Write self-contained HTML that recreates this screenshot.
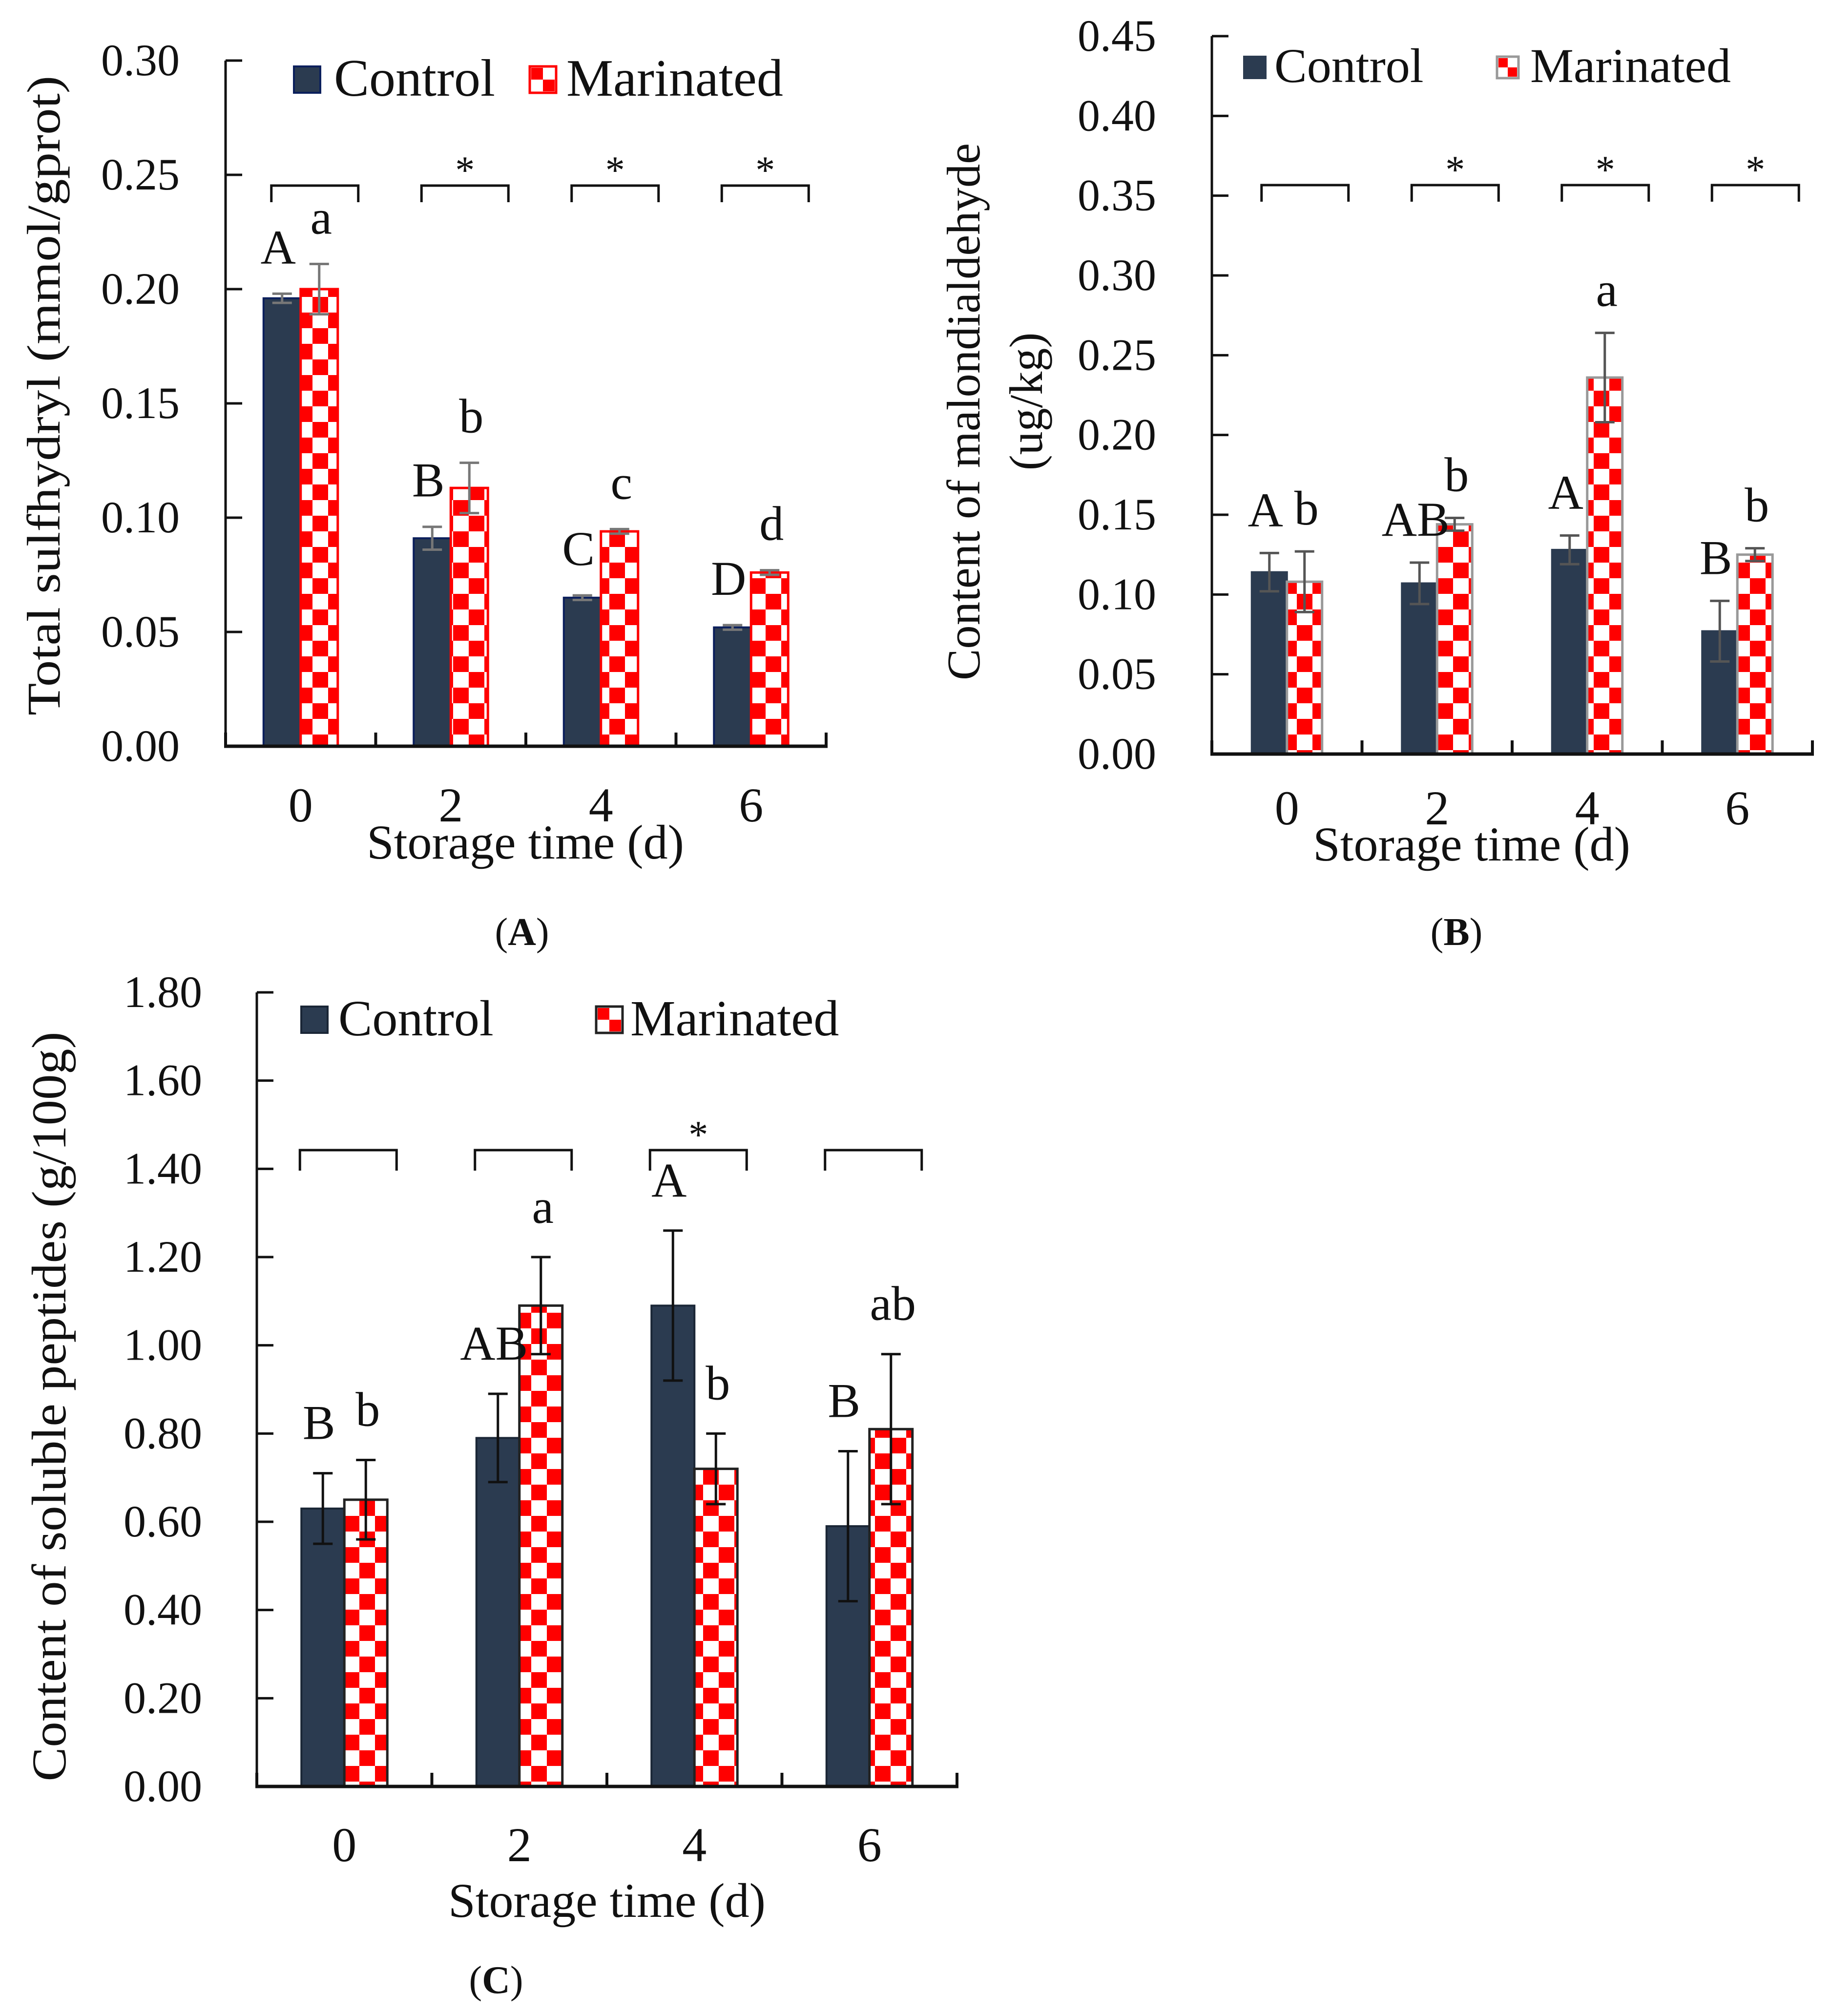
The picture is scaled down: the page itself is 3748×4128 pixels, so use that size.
<!DOCTYPE html>
<html><head><meta charset="utf-8"><style>
html,body{margin:0;padding:0;background:#fff}
svg{display:block}
text{font-family:"Liberation Serif","Noto Serif CJK SC",serif;fill:#111}
</style></head><body>
<svg id="fig" width="3748" height="4128" viewBox="0 0 3748 4128" xmlns="http://www.w3.org/2000/svg">
<defs>
<pattern id="chk" width="64" height="64" patternUnits="userSpaceOnUse">
<rect width="64" height="64" fill="#ff0000"/>
<rect x="0" y="0" width="32" height="32" fill="#fff"/>
<rect x="32" y="32" width="32" height="32" fill="#fff"/>
</pattern>
</defs>
</svg>
<script>
const categories = ["0","2","4","6"];
// Panel A
const aControl = [0.196, 0.091, 0.065, 0.052];
const aControlErr = [0.002, 0.005, 0.001, 0.001];
const aMarinated = [0.200, 0.113, 0.094, 0.076];
const aMarinatedErr = [0.011, 0.011, 0.001, 0.001];
const aControlLetters = ["A","B","C","D"];
const aMarinatedLetters = ["a","b","c","d"];
const aStars = [false, true, true, true];
const aTicks = ["0.00","0.05","0.10","0.15","0.20","0.25","0.30"];
// Panel B
const bControl = [0.114, 0.107, 0.128, 0.077];
const bControlErr = [0.012, 0.013, 0.009, 0.019];
const bMarinated = [0.108, 0.144, 0.236, 0.125];
const bMarinatedErr = [0.019, 0.004, 0.028, 0.004];
const bControlLetters = ["A","AB","A","B"];
const bMarinatedLetters = ["b","b","a","b"];
const bStars = [false, true, true, true];
const bTicks = ["0.00","0.05","0.10","0.15","0.20","0.25","0.30","0.35","0.40","0.45"];
// Panel C
const cControl = [0.63, 0.79, 1.09, 0.59];
const cControlErr = [0.08, 0.10, 0.17, 0.17];
const cMarinated = [0.65, 1.09, 0.72, 0.81];
const cMarinatedErr = [0.09, 0.11, 0.08, 0.17];
const cControlLetters = ["B","AB","A","B"];
const cMarinatedLetters = ["b","a","b","ab"];
const cStars = [false, false, true, false];
const cTicks = ["0.00","0.20","0.40","0.60","0.80","1.00","1.20","1.40","1.60","1.80"];

const NS = "http://www.w3.org/2000/svg";
const svg = document.getElementById("fig");
function mk(tag, attrs, parent){
  const e = document.createElementNS(NS, tag);
  for (const k in attrs) e.setAttribute(k, attrs[k]);
  (parent||svg).appendChild(e);
  return e;
}
function txt(s, attrs, parent){ const t = mk("text", attrs, parent); t.textContent = s; return t; }

function panel(p){
  const g = mk("g", {});
  
  
  const ymax = parseFloat(p.ticks[p.ticks.length-1]);
  const Y = v => p.y0 - (v/ymax)*(p.y0 - p.yTop);
  const cw = (p.x1 - p.x0)/categories.length;
  const X = i => p.x0 + cw*(i+0.5);
  p.ticks.forEach(t => {
    const y = Y(parseFloat(t));
    const tk = mk("line",{x1:p.x0,x2:p.x0+34,y1:y,y2:y,stroke:"#111","stroke-width":5},g);
    
    
    const lb = txt(t,{x:p.tickRight,y:y+30,"font-size":92,"text-anchor":"end"},g);
    
    
  });
  categories.forEach((c,i) => {
    const cx = X(i);
    const w = p.bw;
    const r1 = mk("rect",{x:cx-w,y:Y(p.ctrl[i]),width:w,height:p.y0-Y(p.ctrl[i]),fill:"#2b3b50",stroke:p.ctrlStroke,"stroke-width":4},g);
    
    
    const r2 = mk("rect",{x:cx,y:Y(p.mar[i]),width:w,height:p.y0-Y(p.mar[i]),fill:"url(#chk)",stroke:p.marStroke,"stroke-width":5},g);
    
    
    [[cx-w/2,p.ctrl[i],p.ctrlErr[i]],[cx+w/2,p.mar[i],p.marErr[i]]].forEach(([ex,v,e]) => {
      const eg = mk("g",{stroke:p.errColor,"stroke-width":5},g);
      
      
      mk("line",{x1:ex,x2:ex,y1:Y(v+e),y2:Y(v-e)},eg);
      mk("line",{x1:ex-20,x2:ex+20,y1:Y(v+e),y2:Y(v+e)},eg);
      mk("line",{x1:ex-20,x2:ex+20,y1:Y(v-e),y2:Y(v-e)},eg);
    });
    const l1 = txt(p.cl[i],{x:cx-w/2-8,y:Y(p.ctrl[i]+p.ctrlErr[i])-p.letOff,"font-size":100,"text-anchor":"middle"},g);
    
    
    const l2 = txt(p.ml[i],{x:cx+w/2+4,y:Y(p.mar[i]+p.marErr[i])-p.letOff,"font-size":100,"text-anchor":"middle"},g);
    
    
    const bx = cx + p.brOff - p.brW/2;
    const br = mk("path",{d:`M${bx} ${p.brTop+p.brH} V${p.brTop} H${bx+p.brW} V${p.brTop+p.brH}`,fill:"none",stroke:"#111","stroke-width":5},g);
    
    
    if (p.stars[i]) {
      const s = txt("*",{x:cx+p.brOff,y:p.brTop-5,"font-size":80,"text-anchor":"middle"},g);
      
      
    }
    const xl = txt(c,{x:cx,y:p.xlabY,"font-size":100,"text-anchor":"middle"},g);
    
    
  });
  const ya = mk("line",{x1:p.x0,x2:p.x0,y1:p.yTop,y2:p.y0,stroke:"#111","stroke-width":5},g);
  
  
  const yt = mk("line",{x1:p.x0,x2:p.x0+34,y1:p.yTop,y2:p.yTop,stroke:"#111","stroke-width":5},g);
  
  
  const xa = mk("line",{x1:p.x0-3,x2:p.x1+3,y1:p.y0,y2:p.y0,stroke:"#111","stroke-width":7},g);
  
  
  for (let i=0;i<=categories.length;i++){
    const x = p.x0 + cw*i;
    const t = mk("line",{x1:x,x2:x,y1:p.y0,y2:p.y0-28,stroke:"#111","stroke-width":6},g);
    
    
  }
  const xt = txt("Storage time (d)",{x:p.xtX,y:p.xtY,"font-size":100,"text-anchor":"middle"},g);
  
  
  p.ytitles.forEach(t => {
    const a = {x:0,y:0,"font-size":t.fs,"text-anchor":"middle",transform:`translate(${t.x},${t.y}) rotate(-90)`};
    if (t.len) { a.textLength = t.len; a.lengthAdjust = "spacingAndGlyphs"; }
    const e = txt(t.s,a,g);
    
    
  });
  const lg = mk("g",{},g);
  
  
  const L = p.leg;
  const k1 = mk("rect",{x:L.c[0],y:L.y,width:L.s,height:L.s,fill:"#2b3b50",stroke:p.ctrlStroke,"stroke-width":4},lg);
  
  
  const t1 = txt("Control",{x:L.c[1],y:L.base,"font-size":L.fs},lg);
  
  
  const k2 = mk("rect",{x:L.m[0],y:L.y,width:L.s,height:L.s,fill:"#fff",stroke:p.legMarStroke,"stroke-width":5},lg);
  
  
  mk("rect",{x:L.m[0]+3,y:L.y+3,width:L.s/2-3,height:L.s/2-3,fill:"#f00"},lg);
  mk("rect",{x:L.m[0]+L.s/2,y:L.y+L.s/2,width:L.s/2-3,height:L.s/2-3,fill:"#f00"},lg);
  const t2 = txt("Marinated",{x:L.m[1],y:L.base,"font-size":L.fs},lg);
  
  
  const cap = txt("",{x:p.cap[0],y:p.cap[1],"font-size":80,"text-anchor":"middle"},g);
  cap.innerHTML = '(<tspan font-weight="bold">'+p.capL+'</tspan>)';
  
  
}

panel({name:"panel-a",x0:462,x1:1692,y0:1528,yTop:124,ticks:aTicks,tickRight:368,bw:76,
  ctrl:aControl,ctrlErr:aControlErr,mar:aMarinated,marErr:aMarinatedErr,cl:aControlLetters,ml:aMarinatedLetters,stars:aStars,
  ctrlStroke:"#0b1f5c",marStroke:"#ff0000",legMarStroke:"#ff0000",errColor:"#777",letOff:62,
  brOff:29,brW:178,brH:34,brTop:380,xlabY:1682,xtX:1076,xtY:1758,
  ytitles:[{s:"Total sulfhydryl  (mmol/gprot)",x:122,y:810,fs:96,len:1310}],
  leg:{c:[602,684],m:[1085,1160],y:136,s:54,base:196,fs:108},cap:[1069,1935],capL:"A"});

panel({name:"panel-b",x0:2482,x1:3712,y0:1544,yTop:74,ticks:bTicks,tickRight:2368,bw:72,
  ctrl:bControl,ctrlErr:bControlErr,mar:bMarinated,marErr:bMarinatedErr,cl:bControlLetters,ml:bMarinatedLetters,stars:bStars,
  ctrlStroke:"#2b3b50",marStroke:"#999",legMarStroke:"#999",errColor:"#555",letOff:55,
  brOff:37,brW:178,brH:34,brTop:379,xlabY:1688,xtX:3014,xtY:1762,
  ytitles:[{s:"Content of  malondialdehyde",x:2006,y:843,fs:96,len:1100},{s:"(ug/kg)",x:2134,y:822,fs:96}],
  leg:{c:[2548,2610],m:[3066,3134],y:116,s:44,base:168,fs:100},cap:[2983,1935],capL:"B"});

panel({name:"panel-c",x0:526,x1:1960,y0:3658,yTop:2032,ticks:cTicks,tickRight:414,bw:88,
  ctrl:cControl,ctrlErr:cControlErr,mar:cMarinated,marErr:cMarinatedErr,cl:cControlLetters,ml:cMarinatedLetters,stars:cStars,
  ctrlStroke:"#1a2636",marStroke:"#222",legMarStroke:"#222",errColor:"#111",letOff:70,
  brOff:8,brW:198,brH:42,brTop:2355,xlabY:3811,xtX:1243,xtY:3925,
  ytitles:[{s:"Content of soluble peptides  (g/100g)",x:134,y:2880,fs:100,len:1535}],
  leg:{c:[617,693],m:[1221,1291],y:2061,s:54,base:2120,fs:104},cap:[1016,4081],capL:"C"});
</script>
</body></html>
